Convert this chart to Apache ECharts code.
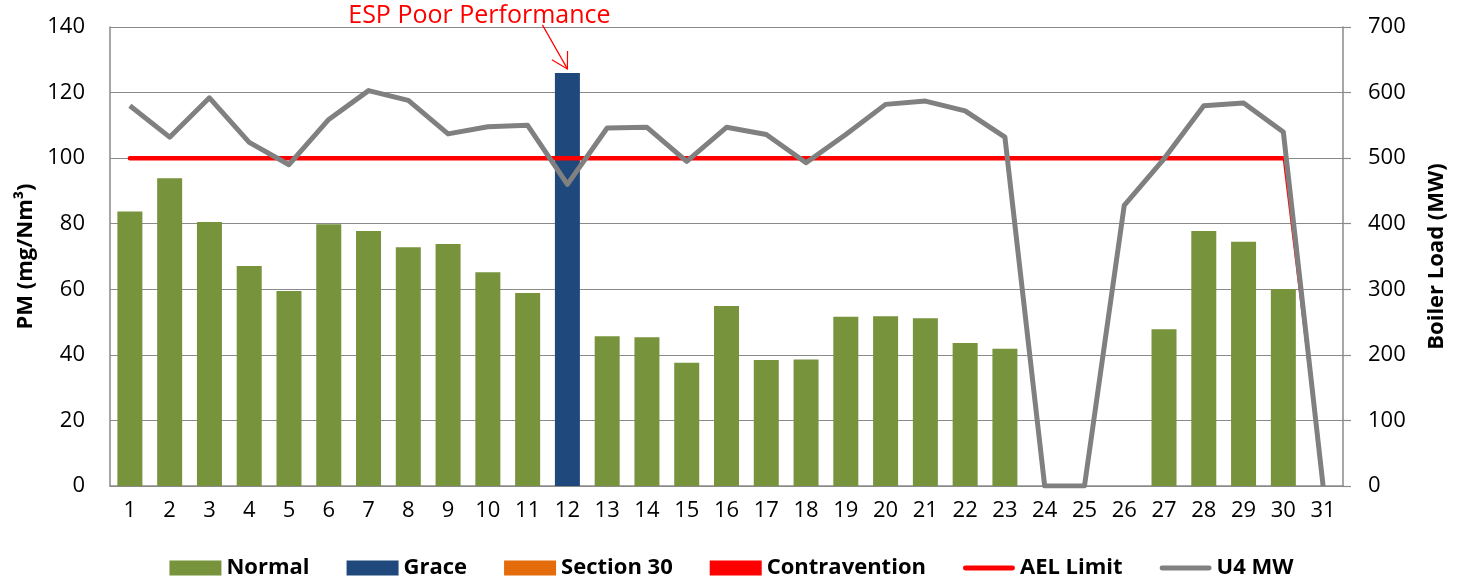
<!DOCTYPE html>
<html>
<head>
<meta charset="utf-8">
<script src="https://cdn.jsdelivr.net/npm/echarts@6/dist/echarts.min.js"></script>
<style>
html,body{margin:0;padding:0;background:#fff;}
#chart{width:1463px;height:584px;}
</style>
</head>
<body>
<div id="chart"></div>
<script>
const categories = ['1','2','3','4','5','6','7','8','9','10','11','12','13','14','15','16','17','18','19','20','21','22','23','24','25','26','27','28','29','30','31'];
const normal = [83.7, 93.9, 80.5, 67.1, 59.5, 79.8, 77.8, 72.8, 73.8, 65.2, 58.9, null, 45.7, 45.4, 37.6, 54.9, 38.4, 38.6, 51.6, 51.8, 51.2, 43.6, 41.9, null, null, null, 47.8, 77.8, 74.5, 60.1, null];
const grace = [null, null, null, null, null, null, null, null, null, null, null, 126.0, null, null, null, null, null, null, null, null, null, null, null, null, null, null, null, null, null, null, null];
const section30 = categories.map(() => null);
const contravention = categories.map(() => null);
const aelLimit = [100, 100, 100, 100, 100, 100, 100, 100, 100, 100, 100, 100, 100, 100, 100, 100, 100, 100, 100, 100, 100, 100, 100, 100, 100, 100, 100, 100, 100, 100, 0];
const u4mw = [580, 532, 592, 524, 490, 559, 603, 588, 537, 548, 550, 460, 546, 547, 495, 547, 536, 493, 536, 582, 587, 572, 532, 0, 0, 428, 499, 580, 584, 540, 0];
const leftTicks = {min: 0, max: 140, interval: 20};
const rightTicks = {min: 0, max: 700, interval: 100};
const annotationText = 'ESP Poor Performance';

const FONT = '"Open Sans", "Liberation Sans", sans-serif';
const GRID = '#8a8a8a';
const chart = echarts.init(document.getElementById('chart'), null, {renderer: 'canvas'});

const lastAel = aelLimit.length - 1;
const aelMain = aelLimit.map((v, i) => i < lastAel ? v : null);
const aelDrop = aelLimit.map((v, i) => i >= lastAel - 1 ? v : null);

const barCommon = {type: 'bar', stack: 'pm', barWidth: 25, yAxisIndex: 0, animation: false};
const lineIcon = 'path://M2,0 L50,0 A2,2 0 0 1 50,5 L2,5 A2,2 0 0 1 2,0 Z';

chart.setOption({
  animation: false,
  textStyle: {fontFamily: FONT},
  grid: {left: 110, right: 120, top: 27, bottom: 98, containLabel: false},
  legend: {
    top: 552,
    left: 'center',
    itemWidth: 52,
    itemHeight: 15,
    itemGap: 37,
    textStyle: {fontFamily: FONT, fontSize: 22, fontWeight: 'bold', color: '#000'},
    data: [
      {name: 'Normal', icon: 'rect'},
      {name: 'Grace', icon: 'rect'},
      {name: 'Section 30', icon: 'rect'},
      {name: 'Contravention', icon: 'rect'},
      {name: 'AEL Limit', icon: lineIcon},
      {name: 'U4 MW', icon: lineIcon}
    ]
  },
  xAxis: {
    type: 'category',
    data: categories,
    boundaryGap: true,
    axisLine: {lineStyle: {color: GRID, width: 1.5}},
    axisTick: {show: false},
    axisLabel: {fontFamily: FONT, fontSize: 22, color: '#000', margin: 14}
  },
  yAxis: [
    {
      type: 'value',
      min: leftTicks.min, max: leftTicks.max, interval: leftTicks.interval,
      name: 'PM (mg/Nm³)',
      nameLocation: 'middle',
      nameRotate: 90,
      nameGap: 72,
      nameTextStyle: {fontFamily: FONT, fontSize: 22, fontWeight: 'bold', color: '#000'},
      axisLine: {show: true, lineStyle: {color: GRID, width: 1.5}},
      axisTick: {show: false},
      axisLabel: {fontFamily: FONT, fontSize: 22, color: '#000', margin: 25},
      splitLine: {lineStyle: {color: GRID, width: 1.2}}
    },
    {
      type: 'value',
      position: 'right',
      min: rightTicks.min, max: rightTicks.max, interval: rightTicks.interval,
      name: 'Boiler Load (MW)',
      nameLocation: 'middle',
      nameRotate: 90,
      nameGap: 83,
      nameTextStyle: {fontFamily: FONT, fontSize: 22, fontWeight: 'bold', color: '#000'},
      axisLine: {show: true, lineStyle: {color: GRID, width: 1.5}},
      axisTick: {show: true, inside: false, length: 8, lineStyle: {color: GRID, width: 1.2}},
      axisLabel: {fontFamily: FONT, fontSize: 22, color: '#000', margin: 25},
      splitLine: {show: false}
    }
  ],
  series: [
    Object.assign({}, barCommon, {name: 'Normal', data: normal, itemStyle: {color: '#77933C'}}),
    Object.assign({}, barCommon, {name: 'Grace', data: grace, itemStyle: {color: '#1F497D'}}),
    Object.assign({}, barCommon, {name: 'Section 30', data: section30, itemStyle: {color: '#E46C0A'}}),
    Object.assign({}, barCommon, {name: 'Contravention', data: contravention, itemStyle: {color: '#FF0000'}}),
    {
      name: 'AEL Limit', type: 'line', yAxisIndex: 0, data: aelMain,
      symbol: 'none', z: 3,
      lineStyle: {color: '#FF0000', width: 4.5, cap: 'round'},
      itemStyle: {color: '#FF0000'}
    },
    {
      name: 'AEL Limit', type: 'line', yAxisIndex: 0, data: aelDrop,
      symbol: 'none', z: 3,
      lineStyle: {color: '#FF0000', width: 1.5},
      itemStyle: {color: '#FF0000'}
    },
    {
      name: 'U4 MW', type: 'line', yAxisIndex: 1, data: u4mw,
      symbol: 'none', z: 4,
      lineStyle: {color: '#808080', width: 5, join: 'round'},
      itemStyle: {color: '#808080'}
    }
  ]
});

function drawAnnotation() {
  const gi = grace.findIndex(v => v != null);
  const tip0 = chart.convertToPixel({xAxisIndex: 0, yAxisIndex: 0}, [gi, grace[gi]]);
  const tipX = tip0[0], tipY = tip0[1] - 4;
  const startX = tipX - 25, startY = tipY - 44;
  const ang = Math.atan2(tipY - startY, tipX - startX);
  const L = 18, spread = Math.PI / 6;
  const a1 = [tipX - L * Math.cos(ang - spread), tipY - L * Math.sin(ang - spread)];
  const a2 = [tipX - L * Math.cos(ang + spread), tipY - L * Math.sin(ang + spread)];
  chart.setOption({
    graphic: [
      {type: 'line', shape: {x1: startX, y1: startY, x2: tipX, y2: tipY}, style: {stroke: '#FF0000', lineWidth: 1.2}, z: 100},
      {type: 'polyline', shape: {points: [a1, [tipX, tipY], a2]}, style: {stroke: '#FF0000', lineWidth: 1.2, fill: null}, z: 100},
      {type: 'text', x: tipX - 88, y: 16, style: {text: annotationText, fill: '#FF0000', font: '25px ' + FONT, align: 'center', verticalAlign: 'middle'}, z: 100}
    ]
  });
}
drawAnnotation();
</script>
</body>
</html>
